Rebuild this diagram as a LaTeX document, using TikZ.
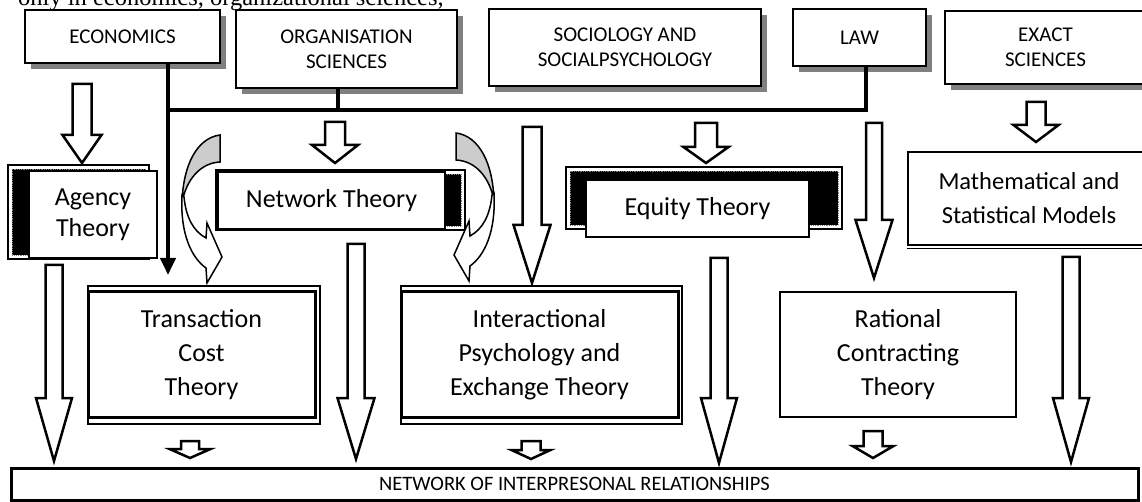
\documentclass[tikz,border=0pt]{standalone}
\usepackage{fontspec}
\setmainfont{Carlito}
\newfontfamily\seriffont{Liberation Serif}
\usetikzlibrary{arrows.meta,shadows,calc}

% hollow block arrow: top, tip, half shaft, half head, head length
\newcommand{\blockarrow}[5]{%
  \draw[blockarr] ($(#1)+(-#3,0)$) -- ($(#2)+(-#3,-#5)$) -- ($(#2)+(-#4,-#5)$)
    -- (#2) -- ($(#2)+(#4,-#5)$) -- ($(#2)+(#3,-#5)$) -- ($(#1)+(#3,0)$) -- cycle;}
% framed black back plate behind a theory box
\newcommand{\backframe}[4]{%
  \draw[line width=2pt,fill=white] (#1,#2) rectangle (#3,#4);
  \draw[fill=black,draw=gray,densely dotted,line width=.8pt] (#1+4,#2+4) rectangle (#3-4,#4-4);}
% curved arrow, tail at the origin
\newcommand{\curvedarrow}{%
  \filldraw[fill=gray!40,line width=1.5pt] (0,0) .. controls (-23,3) and (-37,30) .. (-38,68)
    .. controls (-34,45) and (-20,28) .. (0,27) -- cycle;
  \filldraw[fill=white,line width=1.5pt,line join=miter] (-38,60) .. controls (-40,100) and (-28,123) .. (-14,133)
    -- (-13,148) -- (2,122) -- (-13,88) -- (-14,103) .. controls (-27,96) and (-34,82) .. (-36,62) -- cycle;}

\begin{document}
\begin{tikzpicture}[x=1pt,y=-1pt,
  topbox/.style={draw,line width=2.5pt,fill=white,align=center,inner sep=0pt,
    font=\fontsize{21}{25}\selectfont,
    drop shadow={shadow xshift=6pt,shadow yshift=-6pt,opacity=1,fill=black!50}},
  theorybox/.style={draw,fill=white,align=center,inner sep=0pt,font=\fontsize{26}{34}\selectfont},
  blockarr/.style={draw,line width=2.5pt,fill=white,line join=miter},
  bus/.style={line width=4pt}]
  \useasboundingbox (0,0) rectangle (1142,502);
  \clip (0,0) rectangle (1142,502);

  % text line above the chart
  \node[anchor=base west,inner sep=0pt,font=\seriffont\fontsize{24.5}{28}\selectfont] (frag) at (18,6)
    {only in economics, organizational sciences,};

  % disciplines
  \node[topbox,minimum width=195pt,minimum height=53pt] (eco) at (122.5,36.5) {ECONOMICS};
  \node[topbox,minimum width=221pt,minimum height=78pt] (org) at (346.5,49) {ORGANISATION\\SCIENCES};
  \node[topbox,minimum width=272pt,minimum height=77pt] (soc) at (625,47.5) {SOCIOLOGY AND\\SOCIALPSYCHOLOGY};
  \node[topbox,minimum width=133pt,minimum height=57pt] (law) at (859.5,37.5) {LAW};
  \node[topbox,minimum width=201pt,minimum height=73pt] (exact) at (1045.5,47.5) {EXACT\\SCIENCES};

  % thick lines
  \coordinate (ecotip) at (168,275);
  \coordinate (busl) at (168,110);
  \draw[bus,-{Triangle[length=17pt,width=15pt]}] ([xshift=45.5pt]eco.south) -- (ecotip);
  \draw[bus] (busl) -| ([xshift=6.5pt]law.south);
  \draw[bus] ([xshift=-8.5pt]org.south) -- ([xshift=-8.5pt]org.south |- busl);

  % theories
  \backframe{8}{165}{149}{259}
  \node[theorybox,line width=1.5pt,minimum width=128pt,minimum height=87pt,
    font=\fontsize{26}{31}\selectfont] (agency) at (93,214.5) {Agency\\Theory};
  \backframe{216}{170}{465}{230}
  \node[theorybox,line width=1.5pt,minimum width=227pt,minimum height=57pt] (network) at (331.5,200.5) {Network Theory};
  \backframe{566}{167}{842}{229}
  \node[theorybox,line width=1.5pt,minimum width=223pt,minimum height=57pt] (equity) at (697.5,208.5) {Equity Theory};

  \draw[line width=1.5pt] (88,286) rectangle (320,424);
  \node[theorybox,line width=3pt,minimum width=227pt,minimum height=125pt] (trans) at (201.5,354.5) {Transaction\\Cost\\Theory};
  \draw[line width=1.5pt] (401,286) rectangle (682,424);
  \node[theorybox,line width=3pt,minimum width=277pt,minimum height=125pt] (inter) at (539.5,354.5) {Interactional\\Psychology and\\Exchange Theory};
  \node[theorybox,line width=1.5pt,minimum width=236pt,minimum height=125pt] (rational) at (898,354.5) {Rational\\Contracting\\Theory};
  \node[theorybox,line width=1.5pt,minimum width=242pt,minimum height=93pt,
    font=\fontsize{24.5}{34}\selectfont] (math) at (1029,198.5) {Mathematical and\\Statistical Models};
  \draw[line width=1pt] ([yshift=-3pt]math.south west) -- ([yshift=-3pt]math.south east);

  \node[draw,line width=3pt,minimum width=1127pt,minimum height=32pt,inner sep=0pt,
    font=\fontsize{20.5}{24}\selectfont] (net) at (574.5,484) {NETWORK OF INTERPRESONAL RELATIONSHIPS};

  % block arrows
  \coordinate (ea1) at (82,84);    \coordinate (ea2) at (82,163);
  \coordinate (on1) at (335,122);  \coordinate (on2) at (335,163);
  \coordinate (se1) at (706,123);  \coordinate (se2) at (706,163);
  \coordinate (xm1) at (1036,102); \coordinate (xm2) at (1036,142);
  \coordinate (ag1) at (54,265);   \coordinate (ag2) at (54,461);
  \coordinate (nw1) at (356,244);  \coordinate (nw2) at (356,459);
  \coordinate (bi1) at (532,127);  \coordinate (bi2) at (532,283);
  \coordinate (eq1) at (719,258);  \coordinate (eq2) at (719,463);
  \coordinate (lr1) at (874,123);  \coordinate (lr2) at (874,278);
  \coordinate (mt1) at (1071,257); \coordinate (mt2) at (1071,462);
  \coordinate (tr1) at (190,441);  \coordinate (tr2) at (190,458);
  \coordinate (in1) at (531,441);  \coordinate (in2) at (531,459);
  \coordinate (ra1) at (873,431);  \coordinate (ra2) at (873,458);
  \blockarrow{ea1}{ea2}{9.5}{19.5}{28}
  \blockarrow{on1}{on2}{10}{23}{18}
  \blockarrow{se1}{se2}{11}{22.5}{16}
  \blockarrow{xm1}{xm2}{9.5}{22.5}{17}
  \blockarrow{ag1}{ag2}{8.5}{18}{63}
  \blockarrow{nw1}{nw2}{8.5}{18.5}{61}
  \blockarrow{bi1}{bi2}{9.5}{18.5}{58}
  \blockarrow{eq1}{eq2}{8.5}{18}{65}
  \blockarrow{lr1}{lr2}{8}{18.5}{58}
  \blockarrow{mt1}{mt2}{8.5}{18}{64}
  \blockarrow{tr1}{tr2}{9}{20.5}{9}
  \blockarrow{in1}{in2}{9.5}{19.5}{9}
  \blockarrow{ra1}{ra2}{9.5}{20.5}{12}

  % curved arrows round the network theory box
  \begin{scope}[shift={(220,135)}]
    \curvedarrow
  \end{scope}
  \begin{scope}[shift={(456,133)},xscale=-1]
    \curvedarrow
  \end{scope}
\end{tikzpicture}
\end{document}
